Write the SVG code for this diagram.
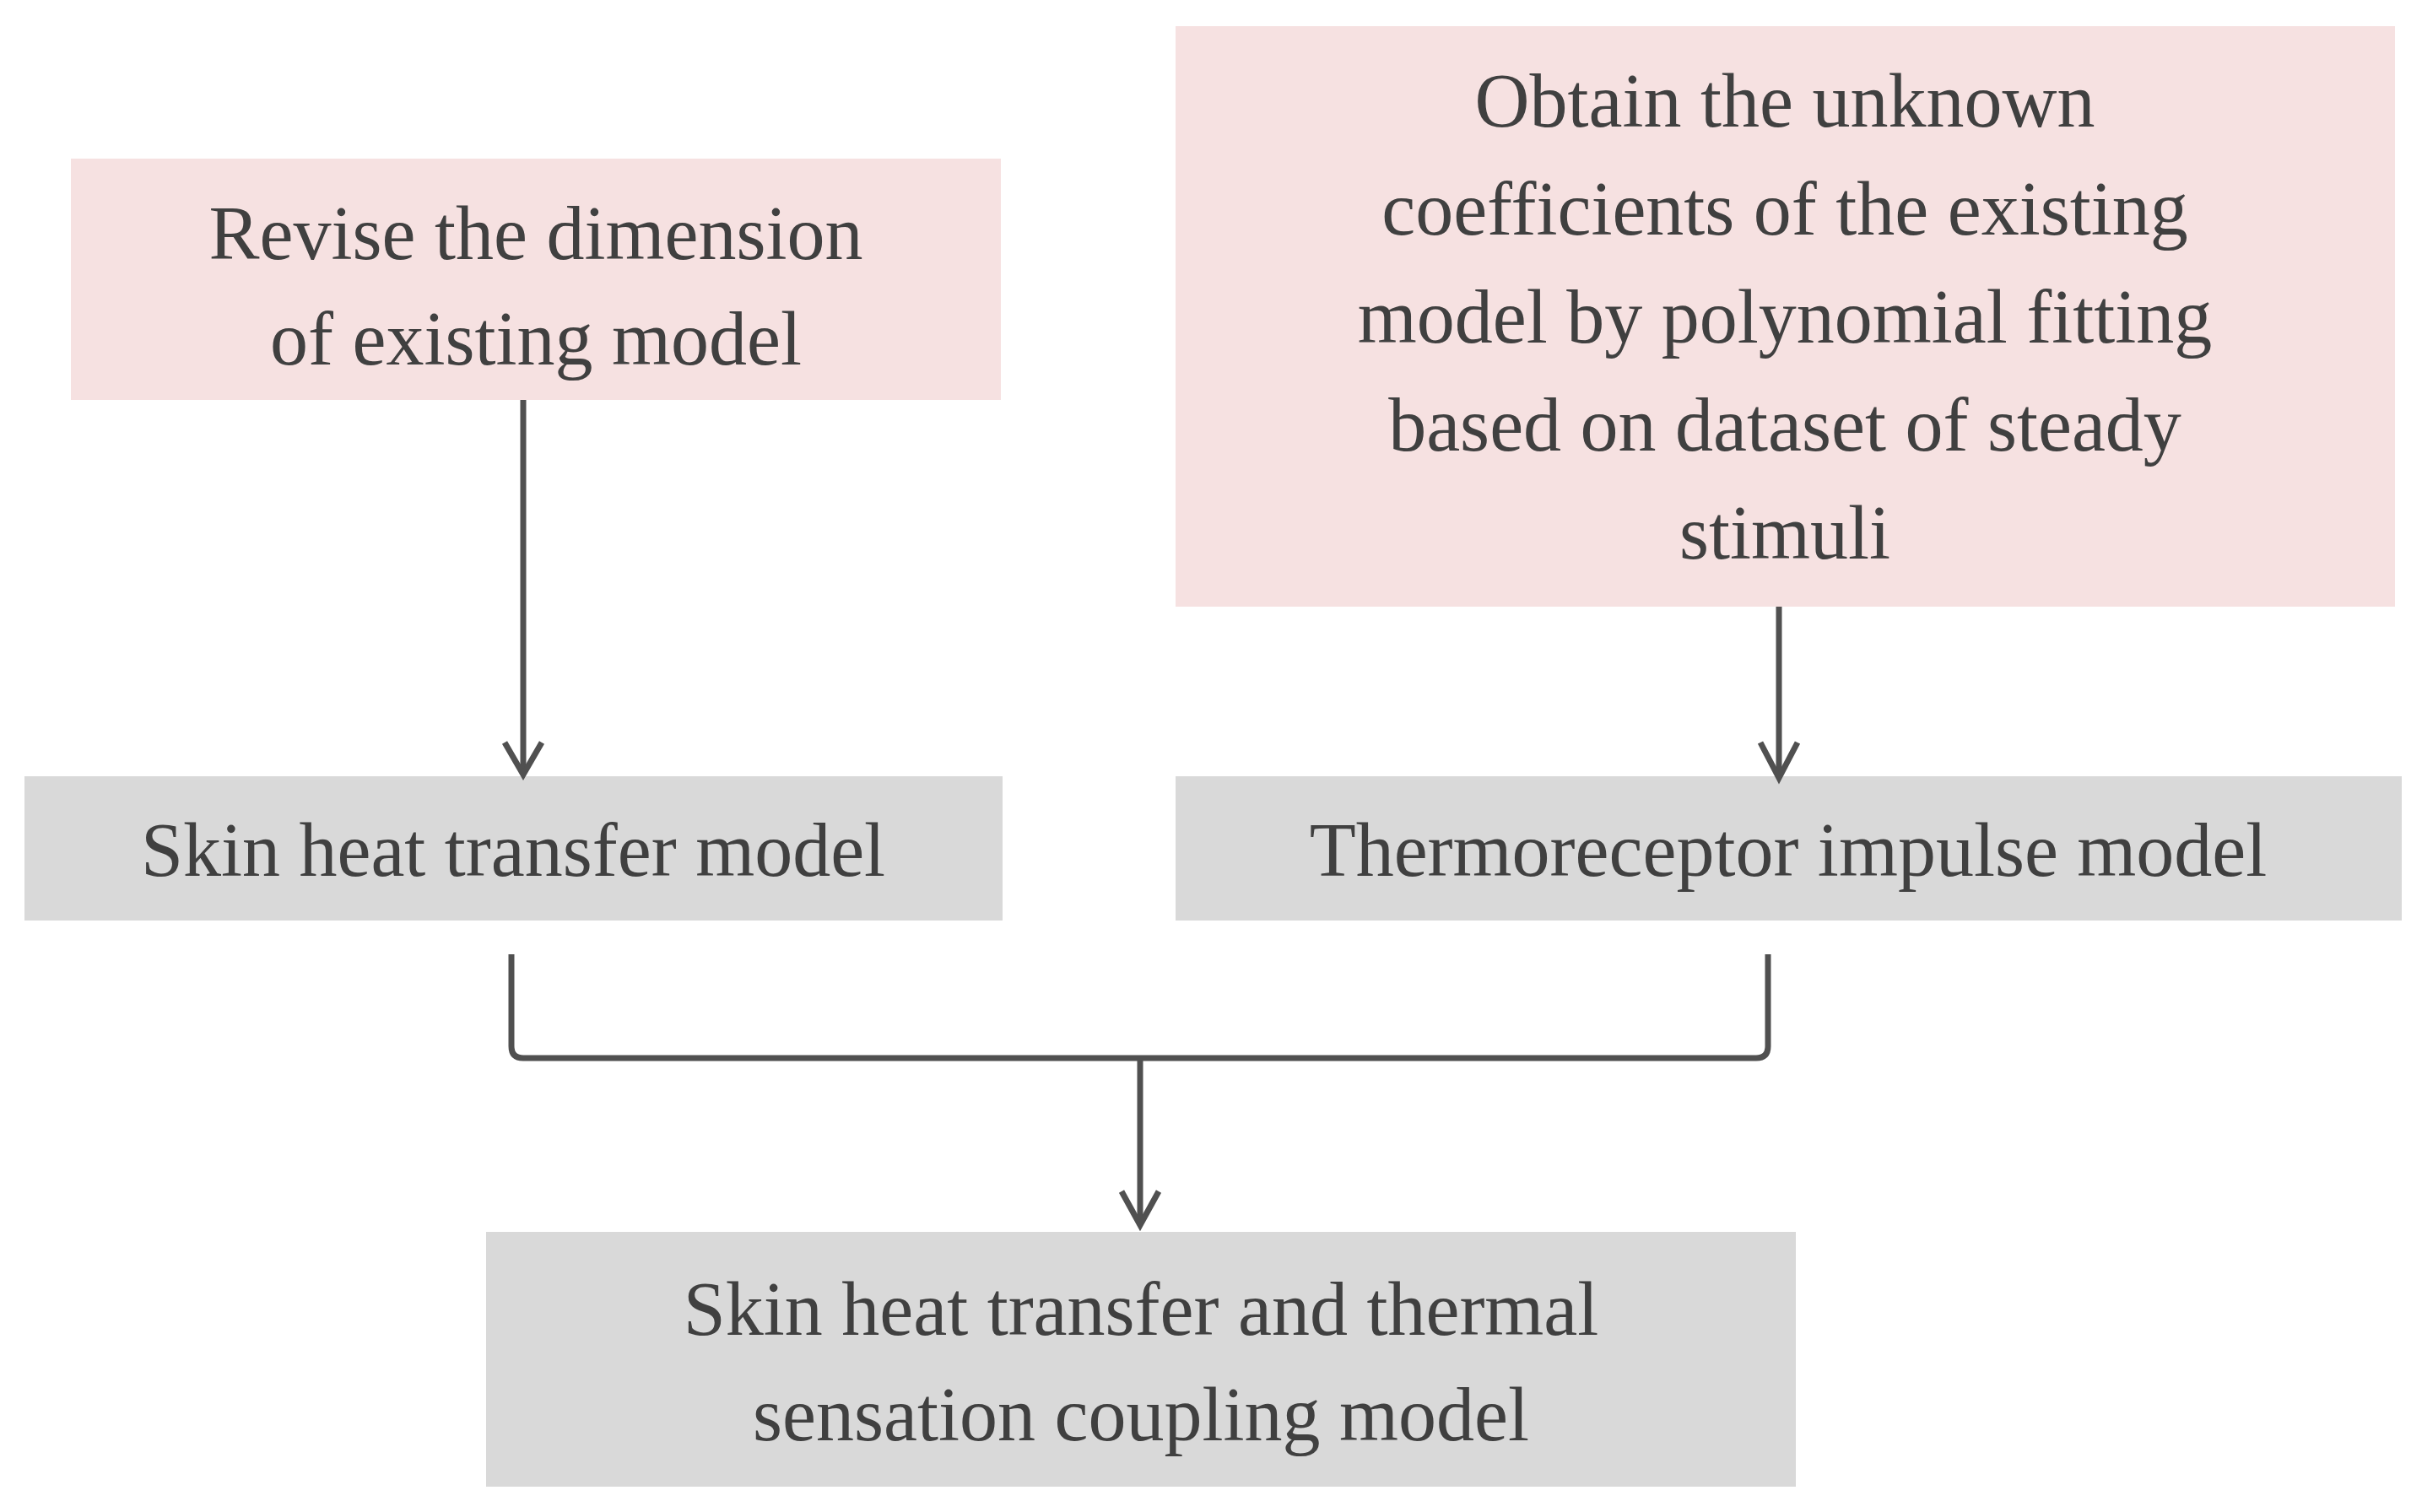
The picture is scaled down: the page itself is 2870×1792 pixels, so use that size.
<svg xmlns="http://www.w3.org/2000/svg" width="2870" height="1792" viewBox="0 0 2870 1792">
<defs>
<style>
.p{fill:#f6e1e1}.g{fill:#d9d9d9}
text{font-family:"Liberation Serif","Times New Roman",serif;font-size:90px;fill:#404040;text-anchor:middle}
.c{stroke:#505050;stroke-width:7;fill:none}
</style>
<marker id="a" markerWidth="10" markerHeight="10" refX="8" refY="5" orient="auto" markerUnits="userSpaceOnUse" viewBox="0 0 10 10"><path d="M0,0 L8,5 L0,10" fill="none" stroke="#505050" stroke-width="1.2"/></marker>
</defs>
<rect width="2870" height="1792" fill="#fff"/>
<g id="n1"><rect class="p" x="84" y="188" width="1102" height="286"/><text x="635" y="307">Revise the dimension</text><text x="635" y="432">of existing model</text></g>
<g id="n2"><rect class="p" x="1393" y="31" width="1445" height="688"/><text x="2115" y="150">Obtain the unknown</text><text x="2115" y="278">coefficients of the existing</text><text x="2115" y="406">model by polynomial fitting</text><text x="2115" y="534">based on dataset of steady</text><text x="2115" y="662">stimuli</text></g>
<g id="n3"><rect class="g" x="29" y="920" width="1159" height="171"/><text x="608" y="1038">Skin heat transfer model</text></g>
<g id="n4"><rect class="g" x="1393" y="920" width="1453" height="171"/><text x="2119" y="1038">Thermoreceptor impulse model</text></g>
<g id="n5"><rect class="g" x="576" y="1460" width="1552" height="302"/><text x="1352" y="1582">Skin heat transfer and thermal</text><text x="1352" y="1707">sensation coupling model</text></g>
<g id="connectors">
<path class="c" d="M620,474 V913" marker-end="url(#a)" style="stroke-width:7"/>
<path class="c" d="M2108,719 V922"/>
<path class="c" d="M2086,880 L2108,922 L2130,880"/>
<path class="c" d="M598,880 L620,918 L642,880"/>
<path class="c" d="M606,1131 V1240 Q606,1254 620,1254 H2081 Q2095,1254 2095,1240 V1131"/>
<path class="c" d="M1351,1254 V1452"/>
<path class="c" d="M1329,1412 L1351,1452 L1373,1412"/>
</g>
</svg>
